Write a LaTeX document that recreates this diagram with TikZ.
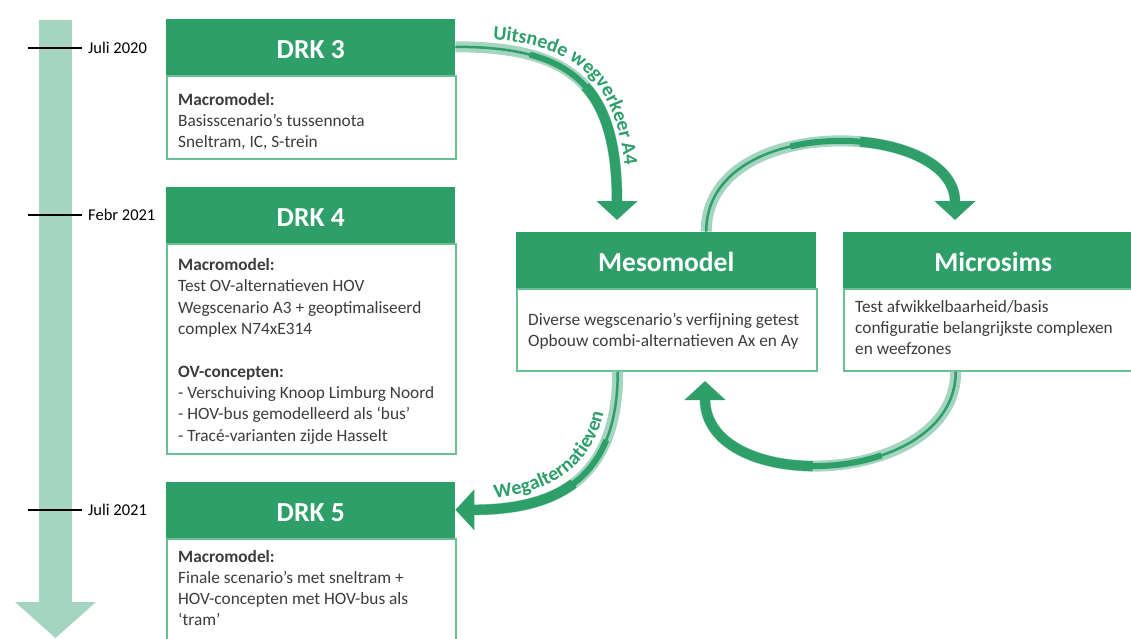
\documentclass[tikz,border=0pt]{standalone}
\usepackage{fontspec}
\setmainfont{Carlito}
\usepackage{xcolor}
\usetikzlibrary{arrows.meta,decorations.text}

\definecolor{drkgreen}{HTML}{2E9F69}
\definecolor{lightgreen}{HTML}{A5D4C1}
\definecolor{edgegreen}{HTML}{6ABF93}
\definecolor{txtgrey}{HTML}{3C3C3C}

\tikzset{
  head/.style={anchor=south west, fill=drkgreen, text=white, inner sep=0pt,
    minimum height=56pt, text height=23.7pt, text depth=0pt,
    font=\fontsize{27.5}{32}\selectfont\bfseries},
  body/.style={anchor=north west, draw=edgegreen, line width=1.5pt, inner sep=0pt},
  info/.style={anchor=base west, inner sep=0pt, align=left, text=txtgrey,
    font=\fontsize{17.3}{21.3}\selectfont},
  date/.style={anchor=west, inner sep=0pt, font=\fontsize{16.5}{19}\selectfont},
  tick/.style={line width=1.6pt, black},
  flowarrow/.style 2 args={draw=drkgreen, line width=10pt,
    -{Triangle[length=19pt,width=40pt]},
    dash pattern=on 0pt off #2 on 2000pt off 1pt,
    preaction={draw=lightgreen, line width=11pt, -, solid, shorten >=18pt},
    preaction={draw=drkgreen, line width=2.5pt, -, solid, shorten >=18pt},
    preaction={draw=drkgreen, line width=6pt, -, shorten >=18pt,
      dash pattern=on 0pt off #1 on 2000pt off 1pt}},
  curvetext/.style 2 args={decorate, decoration={text along path, text color=drkgreen,
    text={|\fontsize{20}{24}\selectfont\bfseries|#1}, raise=0pt,
    text align={left indent=#2}}}
}

\begin{document}
\begin{tikzpicture}[x=1pt,y=1pt,yscale=-1]
\useasboundingbox (0,0) rectangle (1131,638);
\clip (0,0) rectangle (1131,638);

% tijdlijn
\fill[lightgreen] (39,20) rectangle (72,602);
\fill[lightgreen] (15,602) -- (96,602) -- (55.5,638) -- cycle;

\node[date] (d2020) at (88,48) {Juli 2020};
\node[date] (d2021a) at (88,215) {Febr 2021};
\node[date] (d2021b) at (88,510) {Juli 2021};
\draw[tick] (28,48) -- ([xshift=-6pt]d2020.west);
\draw[tick] (28,215) -- ([xshift=-6pt]d2021a.west);
\draw[tick] (28,510) -- ([xshift=-6pt]d2021b.west);

% DRK blokken (tekst: base = laatste regel)
\node[body, minimum width=289pt, minimum height=83pt] (drk3b) at (166,75) {};
\node[head, minimum width=289pt] (drk3h) at (drk3b.north west) {DRK 3};
\node[info] (drk3t) at (178,147.6) {\textbf{Macromodel:}\\Basisscenario’s tussennota\\Sneltram, IC, S-trein};

\node[body, minimum width=289pt, minimum height=210pt] (drk4b) at (166,243) {};
\node[head, minimum width=289pt] (drk4h) at (drk4b.north west) {DRK 4};
\node[info] (drk4t) at (178,441) {\textbf{Macromodel:}\\Test OV-alternatieven HOV\\Wegscenario A3 + geoptimaliseerd\\complex N74xE314\\[21.3pt]\textbf{OV-concepten:}\\- Verschuiving Knoop Limburg Noord\\- HOV-bus gemodelleerd als ‘bus’\\- Tracé-varianten zijde Hasselt};

\node[body, minimum width=289pt, minimum height=122pt] (drk5b) at (166,538) {};
\node[head, minimum width=289pt] (drk5h) at (drk5b.north west) {DRK 5};
\node[info] (drk5t) at (178,625.9) {\textbf{Macromodel:}\\Finale scenario’s met sneltram +\\HOV-concepten met HOV-bus als\\‘tram’};

% meso en micro
\node[body, minimum width=300pt, minimum height=82pt] (mesob) at (516,288) {};
\node[head, minimum width=300pt] (mesoh) at (mesob.north west) {Mesomodel};
\node[info] (mesot) at (528,346.3) {Diverse wegscenario’s verfijning getest\\Opbouw combi-alternatieven Ax en Ay};

\node[body, minimum width=300pt, minimum height=82pt] (microb) at (843,288) {};
\node[head, minimum width=300pt] (microh) at (microb.north west) {Microsims};
\node[info] (microt) at (855,354.6) {Test afwikkelbaarheid/basis\\configuratie belangrijkste complexen\\en weefzones};

% pijlen
\coordinate (u1tip) at (617,220);
\coordinate (m2tip) at (955,220);
\coordinate (m3tip) at (705,381);

\draw[flowarrow={75pt}{140pt}] (drk3h.east) .. controls +(115,0) and +(0,-136) .. (u1tip);
\draw[flowarrow={130pt}{200pt}] ([xshift=40pt]mesoh.north) .. controls +(0,-120) and +(0,-100) .. (m2tip);
\draw[flowarrow={120pt}{190pt}] ([xshift=-38pt]microb.south) .. controls +(0,116) and +(0,116) .. (m3tip);
\draw[flowarrow={70pt}{125pt}] ([xshift=-49pt]mesob.south) .. controls +(0,100) and +(110,0) .. (drk5h.east);

% tekst langs de pijlen
\coordinate (u1a) at (455,38);
\coordinate (u1b) at (627,215);
\coordinate (w4a) at (455,501);
\coordinate (w4b) at (608,370);
\path[curvetext={Uitsnede wegverkeer A4}{38pt}] (u1a) .. controls +(124,0) and +(0,-140) .. (u1b);
\path[curvetext={Wegalternatieven}{40pt}] (w4a) .. controls +(103,0) and +(0,93) .. (w4b);
\end{tikzpicture}
\end{document}
